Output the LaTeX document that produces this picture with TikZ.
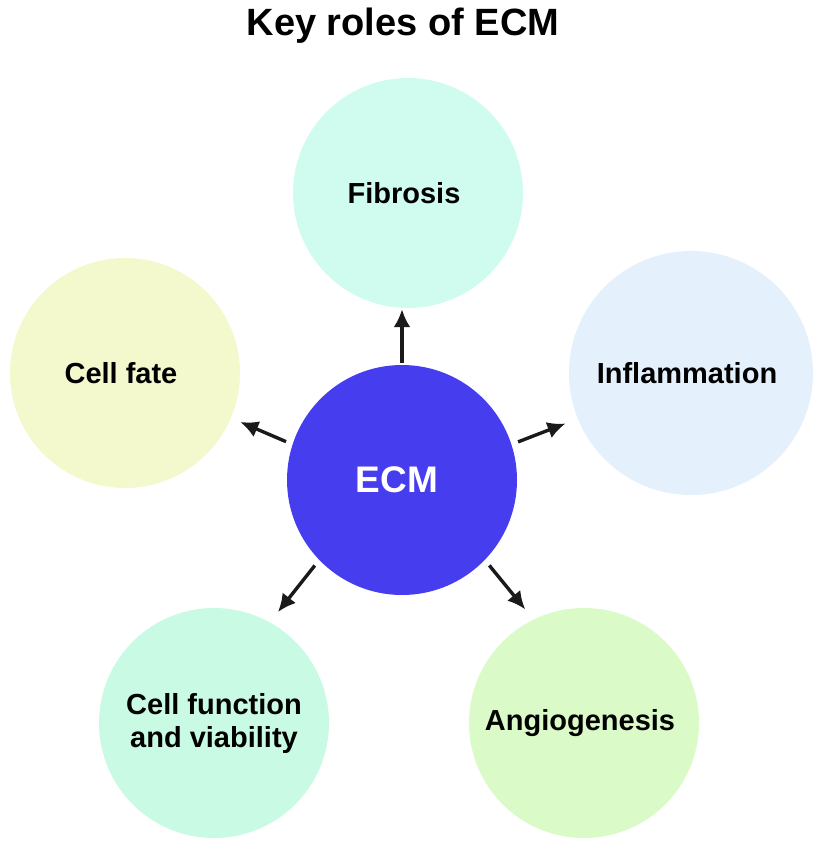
\documentclass[tikz,border=0pt]{standalone}
\usepackage{fontspec}
\setmainfont{Liberation Sans}
\usetikzlibrary{arrows.meta}
\definecolor{ecmblue}{RGB}{69,61,238}
\definecolor{fibrosisgreen}{RGB}{208,252,240}
\definecolor{fateyellow}{RGB}{243,248,205}
\definecolor{inflamblue}{RGB}{228,240,252}
\definecolor{functiongreen}{RGB}{200,250,228}
\definecolor{angiogreen}{RGB}{218,250,200}
\definecolor{arrowdark}{RGB}{26,26,26}
\begin{document}
\begin{tikzpicture}[x=1pt, y=-1pt,
	role/.style = { circle, inner sep=0pt, minimum size=230pt, align=center, font=\fontsize{29}{33}\selectfont\bfseries },
	link/.style = { draw=arrowdark, line width=3.4pt, -{Latex[length=18pt, width=17pt]}, shorten <=7pt, shorten >=13pt }]
	\useasboundingbox (0,0) rectangle (816,848);
	\node [anchor=base, font=\fontsize{38}{44}\selectfont\bfseries] (title) at (403,36) { Key roles of ECM };
	% centre and the five roles
	\node [role, fill=ecmblue, text=white, font=\fontsize{37}{42}\selectfont\bfseries] (ecm) at (402,480) { ECM };
	\node [role, fill=fibrosisgreen] (fibrosis) at (408,193) { Fibrosis };
	\node [role, fill=fateyellow] (fate) at (125,373) { Cell fate };
	\node [role, fill=inflamblue, minimum size=244pt] (inflam) at (691,373) { Inflammation };
	\node [role, fill=functiongreen] (function) at (214,723) { Cell function\\and viability };
	\node [role, fill=angiogreen] (angio) at (584,723) { Angiogenesis };
	% arrows out of the centre
	\draw [link, shorten <=2pt, shorten >=1pt] (ecm.north) -- (ecm.north |- fibrosis.south);
	\draw [link, shorten >=10pt] (ecm.162) -- (fate.-23);
	\draw [link] (ecm.18) -- (inflam.202);
	\draw [link] (ecm.224) -- (function.61);
	\draw [link] (ecm.-44) -- (angio.116);
\end{tikzpicture}
\end{document}
